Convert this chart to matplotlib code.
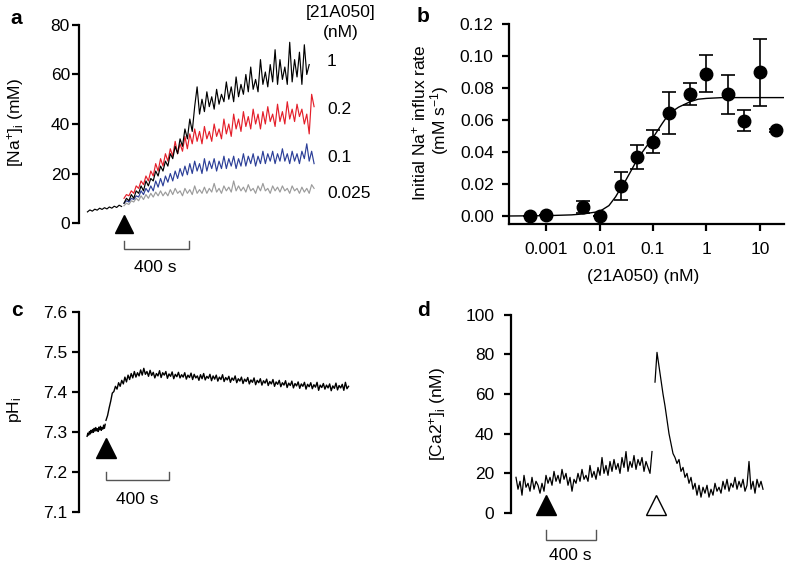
import numpy as np
import matplotlib
matplotlib.use('Agg')
import matplotlib.pyplot as plt

plt.rcParams['font.family'] = ['Liberation Sans', 'DejaVu Sans']
plt.rcParams['mathtext.fontset'] = 'custom'
plt.rcParams['mathtext.rm'] = 'Liberation Sans'
plt.rcParams['mathtext.it'] = 'Liberation Sans:italic'
plt.rcParams['mathtext.bf'] = 'Liberation Sans:bold'

# ---------------- data: panel a ([Na+]i traces, mM) ----------------
na_step = 15                 # s between samples
na_pre_start = -225          # black baseline before 21A050
na_pre = [4.5, 5.3, 4.8, 5.6, 5.2, 6.0, 5.5, 6.2, 5.7, 6.5, 6.0, 6.8, 6.3, 7.2, 6.7]
na_black = [8, 10, 9, 11.5, 10, 13, 12, 15, 13, 17, 15, 18, 17, 21, 19, 23, 21, 25, 23, 28,
            26, 31, 28, 34, 31, 38, 34, 42, 37, 47, 55, 44, 50, 45, 53, 47, 51, 46, 54, 48,
            52, 49, 57, 50, 55, 49, 59, 51, 56, 52, 60, 53, 63, 54, 58, 53, 66, 56, 61, 55,
            64, 57, 70, 56, 66, 58, 63, 56, 73, 57, 66, 59, 69, 56, 72, 60, 64]
na_red = [10, 11.5, 11, 13, 12, 15, 14, 17, 15.5, 19, 17, 21, 19, 24, 21, 26, 23, 28, 25, 30,
          27, 33, 28, 32, 29, 35, 30, 36, 32, 38, 33, 37, 32, 39, 34, 37, 33, 40, 35, 38,
          34, 42, 36, 40, 35, 44, 38, 42, 37, 45, 39, 43, 38, 46, 40, 44, 38, 45, 40, 47,
          41, 44, 39, 48, 41, 45, 40, 49, 42, 46, 41, 48, 43, 46, 40, 44, 36, 52, 47]
na_blue = [8, 9, 8.5, 10, 9.5, 11, 10.5, 13, 11.5, 14, 12.5, 15, 13, 17, 14.5, 18, 15, 19, 16.5, 20,
           17, 21, 18, 22, 19, 23, 19.5, 24, 20, 25, 21, 24, 20, 26, 21, 25, 22, 26, 21, 25,
           22, 27, 22, 26, 23, 27, 22, 26, 23, 28, 23, 27, 24, 28, 23, 27, 24, 29, 24, 28,
           25, 29, 24, 28, 25, 30, 25, 28, 24, 29, 25, 28, 24, 29, 26, 32, 25, 29, 24]
na_gray = [7, 8, 7.5, 9, 8.5, 10, 9, 11, 9.5, 11.5, 10, 12, 10.5, 12.5, 11, 13, 11, 12.5, 11, 13.5,
           11.5, 14, 12, 13, 11, 14, 12, 13.5, 11.5, 15, 12, 13.5, 12, 14.5, 12, 14, 12.5, 16, 12.5, 14,
           12, 15, 13, 14.5, 12.5, 17, 13, 15, 13, 14.5, 12.5, 15.5, 13, 14, 12, 15, 13, 16, 13, 14,
           12, 15, 13, 14.5, 12.5, 15, 13, 14, 12, 15, 13, 14, 12, 14.5, 12.5, 14, 12, 15.5, 14]
conc_labels = ['1', '0.2', '0.1', '0.025']

# ---------------- data: panel b (dose response) ----------------
conc_nM = [0.0005, 0.001, 0.005, 0.01, 0.025, 0.05, 0.1, 0.2, 0.5, 1, 2.5, 5, 10, 20]
rate = [0.0, 0.0006, 0.0055, 0.0, 0.019, 0.0367, 0.0465, 0.0644, 0.076, 0.089, 0.076, 0.0596, 0.0898, 0.0535]
rate_sem = [0.0, 0.0, 0.0036, 0.0, 0.0087, 0.0075, 0.007, 0.013, 0.0069, 0.0115, 0.012, 0.0066, 0.021, 0.001]
fit_x = [0.0002, 0.001, 0.003, 0.005, 0.01, 0.015, 0.02, 0.025, 0.03, 0.04, 0.05, 0.07, 0.1,
         0.15, 0.2, 0.3, 0.5, 0.7, 1, 2, 5, 28]
fit_y = [0.0, 0.0002, 0.0007, 0.0013, 0.0028, 0.0065, 0.012, 0.0175, 0.0215, 0.029, 0.035, 0.042,
         0.049, 0.058, 0.064, 0.068, 0.0715, 0.073, 0.0735, 0.074, 0.074, 0.074]
b_xticks = [0.001, 0.01, 0.1, 1, 10]
b_xticklabels = ['0.001', '0.01', '0.1', '1', '10']

# ---------------- data: panel c (pHi) ----------------
ph_pre_start, ph_pre_step = -120, 5
ph_pre = [7.290, 7.298, 7.293, 7.302, 7.296, 7.305, 7.299, 7.307, 7.300, 7.310, 7.303, 7.312,
          7.304, 7.309, 7.302, 7.313, 7.306, 7.315, 7.305, 7.312, 7.308, 7.318, 7.310, 7.320]
ph_post_start, ph_post_step = 0, 10
ph_post = [7.330, 7.342, 7.361, 7.378, 7.398, 7.402, 7.415, 7.408, 7.424, 7.415,
           7.430, 7.421, 7.438, 7.426, 7.443, 7.432, 7.447, 7.436, 7.452, 7.438,
           7.449, 7.441, 7.456, 7.443, 7.460, 7.445, 7.452, 7.440, 7.455, 7.442,
           7.450, 7.436, 7.447, 7.441, 7.454, 7.437, 7.449, 7.443, 7.452, 7.435,
           7.446, 7.440, 7.451, 7.434, 7.445, 7.439, 7.450, 7.436, 7.444, 7.438,
           7.449, 7.433, 7.443, 7.437, 7.448, 7.432, 7.445, 7.436, 7.441, 7.430,
           7.444, 7.434, 7.447, 7.431, 7.440, 7.435, 7.445, 7.429, 7.441, 7.433,
           7.443, 7.428, 7.438, 7.432, 7.444, 7.427, 7.437, 7.431, 7.440, 7.425,
           7.436, 7.430, 7.441, 7.424, 7.434, 7.428, 7.438, 7.422, 7.433, 7.427,
           7.437, 7.421, 7.431, 7.425, 7.436, 7.419, 7.430, 7.424, 7.434, 7.418,
           7.429, 7.423, 7.433, 7.417, 7.427, 7.421, 7.432, 7.415, 7.426, 7.420,
           7.430, 7.414, 7.424, 7.418, 7.429, 7.412, 7.423, 7.417, 7.428, 7.411,
           7.422, 7.416, 7.426, 7.410, 7.421, 7.415, 7.425, 7.408, 7.420, 7.414,
           7.424, 7.409, 7.419, 7.413, 7.425, 7.405, 7.418, 7.412, 7.422, 7.408,
           7.418, 7.411, 7.421, 7.404, 7.416, 7.410, 7.423, 7.406, 7.417, 7.411,
           7.420, 7.405, 7.425, 7.409, 7.415]

# ---------------- data: panel d ([Ca2+]i, nM) ----------------
ca_step = 16
ca_seg1_start = -240
ca_seg1 = [18, 12, 16, 9, 19, 13, 15, 11, 18, 12, 16, 14, 10, 15, 11,
           19, 15, 18, 14, 21, 16, 19, 15, 22, 17, 20, 14, 18, 11, 17, 15, 20, 16, 22, 17, 19, 16,
           24, 18, 21, 17, 23, 19, 28, 20, 24, 19, 26, 21, 27, 22, 25, 20, 28, 23, 31, 21, 26, 23,
           29, 22, 27, 24, 28, 21, 26, 23, 20, 31]
ca_seg2_start = 872
ca_seg2 = [66, 81, 74, 67, 60, 54, 47, 40, 35, 30, 28, 25, 27, 21, 23, 18, 20, 15, 18, 12,
           15, 9, 14, 8, 13, 10, 14, 8, 12, 9, 15, 11, 13, 10, 16, 12, 17, 11, 15, 13,
           18, 12, 16, 13, 17, 11, 14, 26, 12, 16, 10, 17, 13, 16, 12]
ca_open_arrow_t = 876

# ---------------- figure ----------------
W, H = 788, 566
fig = plt.figure(figsize=(W / 100, H / 100), dpi=100)
FS = 12.5


def add_ax(l, t, r, b):
    return fig.add_axes([l / W, 1 - b / H, (r - l) / W, (b - t) / H])


def ftext(x, y, s, **kw):
    kw.setdefault('fontsize', FS)
    kw.setdefault('ha', 'center')
    kw.setdefault('va', 'center')
    fig.text(x / W, 1 - y / H, s, **kw)


def style_left(ax, lo, hi, ticks, pad):
    for s in ['top', 'right', 'bottom']:
        ax.spines[s].set_visible(False)
    ax.spines['left'].set_bounds(lo, hi)
    ax.spines['left'].set_linewidth(1.6)
    ax.set_yticks(ticks)
    ax.tick_params(axis='y', length=5, width=1.6, labelsize=FS, pad=pad)
    ax.set_xticks([])
    ax.patch.set_alpha(0)


def scalebar(ax, y_line, y_tick):
    ax.plot([0, 0, 400, 400], [y_tick, y_line, y_line, y_tick], color='#555555', lw=1.0,
            clip_on=False, solid_joinstyle='miter')


def times(start, step, vals):
    return start + step * np.arange(len(vals))


# ---- panel a ----
axa = add_ax(79, 20, 330, 280)
axa.set_xlim(-277, 1268)
axa.set_ylim(-23.0, 82.0)
style_left(axa, 0, 80, [0, 20, 40, 60, 80], 1.5)
axa.plot(times(0, na_step, na_gray), na_gray, color='#9b9b9b', lw=0.85)
axa.plot(times(0, na_step, na_blue), na_blue, color='#2c3f98', lw=0.85)
axa.plot(times(0, na_step, na_red), na_red, color='#e41f2a', lw=0.85)
axa.plot(times(na_pre_start, na_step, na_pre), na_pre, color='black', lw=0.85)
axa.plot(times(0, na_step, na_black), na_black, color='black', lw=0.85)
axa.plot([0], [-0.4], marker='^', ms=13, color='black', clip_on=False)
scalebar(axa, -10.6, -7.4)
ftext(155, 267, '400 s')
ftext(16, 122, r'[Na$^{+}$]$_{\mathrm{i}}$ (mM)', rotation=90)
ftext(341, 13, '[21A050]')
ftext(341, 33, '(nM)')
for lab, yy in zip(conc_labels, [62, 110, 158, 193]):
    ftext(327, yy, lab, ha='left')
ftext(16, 18, 'a', fontsize=15, weight='bold')

# ---- panel b ----
axb = add_ax(509, 20, 784, 224)
axb.set_xscale('log')
axb.set_xlim(2.034e-4, 28.1)
axb.set_ylim(-0.005, 0.1225)
for s in ['top', 'right']:
    axb.spines[s].set_visible(False)
axb.spines['left'].set_bounds(-0.005, 0.12)
axb.spines['left'].set_linewidth(1.6)
axb.spines['bottom'].set_linewidth(1.6)
axb.set_yticks([0, 0.02, 0.04, 0.06, 0.08, 0.10, 0.12])
axb.set_yticklabels(['0.00', '0.02', '0.04', '0.06', '0.08', '0.10', '0.12'])
axb.set_xticks(b_xticks)
axb.set_xticklabels(b_xticklabels)
axb.minorticks_off()
axb.tick_params(axis='y', length=5, width=1.6, labelsize=FS, pad=6)
axb.tick_params(axis='x', length=5, width=1.6, labelsize=FS, pad=8)
axb.patch.set_alpha(0)
axb.plot(fit_x, fit_y, color='black', lw=1.0)
axb.errorbar(conc_nM, rate, yerr=rate_sem, fmt='o', color='black', ms=9,
             capsize=4.7, elinewidth=1.2, capthick=1.2)
ftext(643, 277, '(21A050) (nM)')
ftext(419, 123, r'Initial Na$^{+}$ influx rate', rotation=90)
ftext(440, 120, r'(mM s$^{-1}$)', rotation=90)
ftext(423, 16, 'b', fontsize=15, weight='bold')

# ---- panel c ----
axc = add_ax(79, 300, 360, 545)
axc.set_xlim(-171.4, 1612.7)
axc.set_ylim(7.0183, 7.6308)
style_left(axc, 7.1, 7.6, [7.1, 7.2, 7.3, 7.4, 7.5, 7.6], 3.5)
axc.set_yticklabels(['7.1', '7.2', '7.3', '7.4', '7.5', '7.6'])
axc.plot(times(ph_pre_start, ph_pre_step, ph_pre), ph_pre, color='black', lw=1.0)
axc.plot(times(ph_post_start, ph_post_step, ph_post), ph_post, color='black', lw=1.0)
axc.plot([0], [7.261], marker='^', ms=14, color='black', clip_on=False)
scalebar(axc, 7.1815, 7.2)
ftext(137, 500, '400 s')
ftext(15, 410, r'pH$_{\mathrm{i}}$', rotation=90)
ftext(17, 311, 'c', fontsize=15, weight='bold')

# ---- panel d ----
axd = add_ax(511, 300, 775, 566)
axd.set_xlim(-280, 1832)
axd.set_ylim(-26.7, 107.4)
style_left(axd, 0, 100, [0, 20, 40, 60, 80, 100], 7)
axd.plot(times(ca_seg1_start, ca_step, ca_seg1), ca_seg1, color='black', lw=0.9)
axd.plot(times(ca_seg2_start, ca_step, ca_seg2), ca_seg2, color='black', lw=0.9)
axd.plot([0], [4.0], marker='^', ms=14, color='black', clip_on=False)
axd.plot([ca_open_arrow_t], [4.0], marker='^', ms=14, markerfacecolor='white',
         markeredgecolor='black', markeredgewidth=1.0, clip_on=False)
scalebar(axd, -13.6, -8.6)
ftext(570, 556, '400 s')
ftext(437, 414, r'[Ca2$^{+}$]$_{\mathrm{i}}$ (nM)', rotation=90)
ftext(424, 310, 'd', fontsize=15, weight='bold')

fig.savefig('out.png', dpi=100)
